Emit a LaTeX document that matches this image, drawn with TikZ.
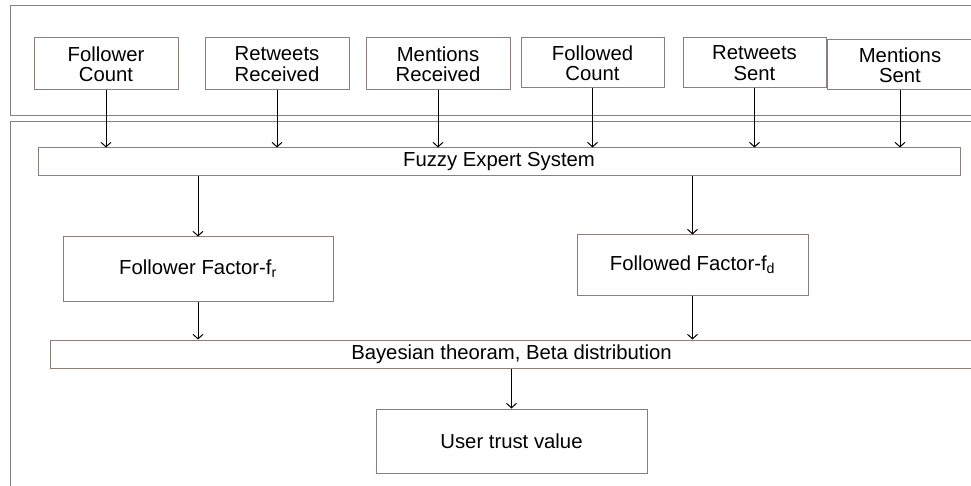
\documentclass[tikz,border=0pt]{standalone}
\usepackage{fontspec}
\setmainfont{Liberation Sans}
\usetikzlibrary{arrows.meta}
\definecolor{frame}{HTML}{8C7E7B}
\tikzset{
  box/.style={draw=frame, line width=1pt, inner sep=0pt, align=center,
    font=\fontsize{20.3}{20.5}\selectfont, text=black},
  arr/.style={draw=black, line width=1pt, -{Straight Barb[length=4.5pt,width=10pt]}},
  panel/.style={draw=frame, line width=1pt}
}
\begin{document}
\begin{tikzpicture}[x=1pt,y=-1pt]
\useasboundingbox (0,0) rectangle (971,486);
\fill[white] (0,0) rectangle (971,486);
\draw[panel] (10,6) rectangle (976,116);
\draw[panel] (10,122) rectangle (976,494);
% input boxes
\node[box, minimum width=144pt, minimum height=52pt] (fc) at (106,64) {Follower\\Count};
\node[box, minimum width=144pt, minimum height=52pt] (rr) at (277,64) {Retweets\\Received};
\node[box, minimum width=144pt, minimum height=52pt] (mr) at (438,64) {Mentions\\Received};
\node[box, minimum width=143pt, minimum height=50pt] (foc) at (592.5,63) {Followed\\Count};
\node[box, minimum width=143pt, minimum height=50pt] (rs) at (754.5,63) {Retweets\\Sent};
\node[box, minimum width=146pt, minimum height=50pt] (ms) at (900,65) {Mentions\\Sent};
% processing
\node[box, minimum width=922pt, minimum height=28pt] (fes) at (499,162) {Fuzzy Expert System};
\node[box, minimum width=270pt, minimum height=64pt] (ff) at (198,269) {Follower Factor-f\textsubscript{r}};
\node[box, minimum width=231pt, minimum height=60pt] (fdf) at (692.5,265) {Followed Factor-f\textsubscript{d}};
\node[box, minimum width=923pt, minimum height=28pt] (bay) at (511.5,354) {Bayesian theoram, Beta distribution};
\node[box, minimum width=271pt, minimum height=64pt] (ut) at (511.5,441) {User trust value};
% connectors
\foreach \n in {fc,rr,mr,foc,rs,ms}
  \draw[arr] (\n.south) -- (\n.south |- fes.north);
\draw[arr] (fes.south -| ff.north) -- (ff.north);
\draw[arr] (fes.south -| fdf.north) -- (fdf.north);
\draw[arr] (ff.south) -- (ff.south |- bay.north);
\draw[arr] (fdf.south) -- (fdf.south |- bay.north);
\draw[arr] (bay.south -| ut.north) -- (ut.north);
\end{tikzpicture}
\end{document}
